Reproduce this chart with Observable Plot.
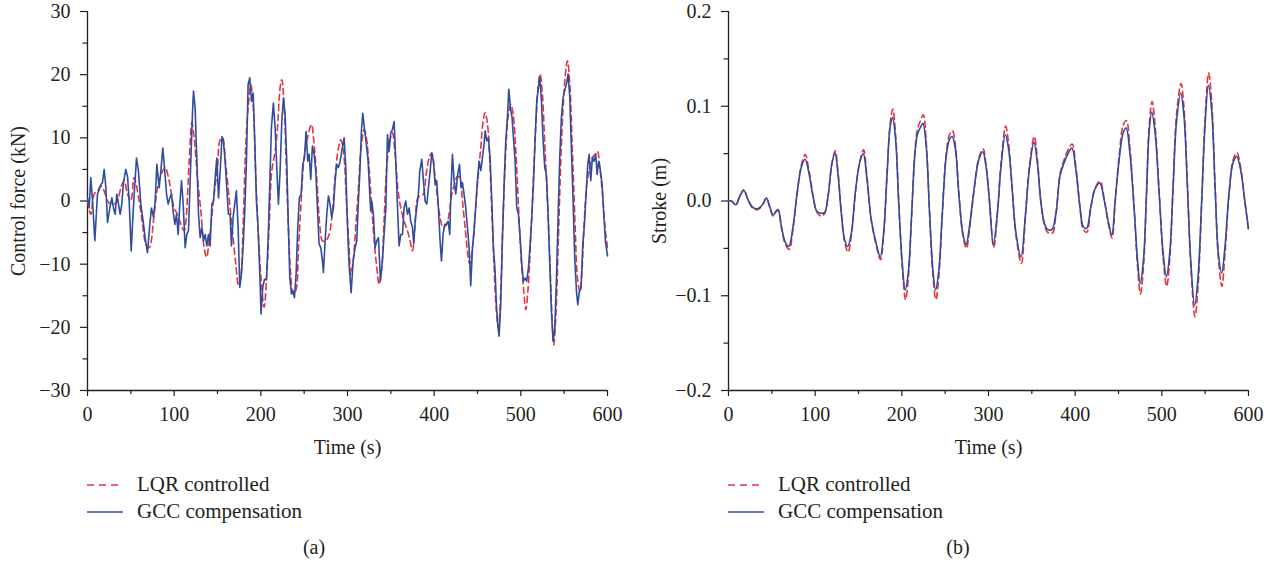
<!DOCTYPE html>
<html><head><meta charset="utf-8">
<script src="https://cdn.jsdelivr.net/npm/d3@7"></script>
<script src="https://cdn.jsdelivr.net/npm/@observablehq/plot@0.6"></script>
<style>
body{margin:0;background:#fff;font-family:"Liberation Serif","DejaVu Serif",serif;color:#231f20;}
#wrap{position:relative;width:1283px;height:569px;overflow:hidden;}
.panel{position:absolute;top:0;height:569px;}
.legend{position:absolute;left:87px;top:471px;font-size:21px;}
.row{height:27px;display:flex;align-items:center;}
.row svg{flex:none;}
.row span{margin-left:14px;white-space:nowrap;}
.cap{position:absolute;top:536px;width:40px;text-align:center;font-size:20px;}
</style></head><body>
<div id="wrap">
  <div class="panel" id="pa" style="left:0;width:641px;">
    <div class="legend" id="la"></div>
    <div class="cap" style="left:294px;">(a)</div>
  </div>
  <div class="panel" id="pb" style="left:641px;width:642px;">
    <div class="legend" id="lb"></div>
    <div class="cap" style="left:297px;">(b)</div>
  </div>
</div>
<script>
const seriesNames = ["LQR controlled", "GCC compensation"];
const xLabel = "Time (s)";
const yLabelA = "Control force (kN)";
const yLabelB = "Stroke (m)";
const xTicks = [0, 100, 200, 300, 400, 500, 600];
const xMinor = [50, 150, 250, 350, 450, 550];
const yTicksA = [-30, -20, -10, 0, 10, 20, 30];
const yMinorA = [-25, -15, -5, 5, 15, 25];
const yTicksB = [-0.2, -0.1, 0, 0.1, 0.2];
const yMinorB = [-0.15, -0.05, 0.05, 0.15];

// (a) control force, kN : [time s, value]
const gccForce = [[0,0.5],[1.9,-1.1],[3.8,3.7],[5.8,0],[8.5,-6.3],[11.5,1.1],[13.5,1.8],[15.4,2.6],[17.3,2.9],[19.2,5],[21.2,2.1],[23.1,-3.4],[25.8,-1.1],[28.1,0.5],[30,-1.1],[31.9,-2.1],[33.8,1.1],[35.8,-0.5],[37.7,-2.1],[39.6,-0.5],[41.5,2.9],[44.2,5],[46.2,3.9],[48.1,0],[50.4,-7.9],[52.7,-1.6],[56.5,6.8],[58.8,4.7],[61.5,-0.5],[64.2,-3.2],[66.5,-5.8],[69.2,-8.2],[71.9,-3.7],[73.8,-1.1],[76.2,-2.6],[78.1,0],[80,5.8],[82.7,2.1],[84.6,4.7],[86.9,8.4],[89.2,4.7],[91.2,1.1],[93.1,-0.5],[95,0.5],[96.9,1.1],[98.8,-1.6],[100.8,-3.7],[102.7,-2.1],[104.6,-5.3],[106.5,-0.5],[108.5,3.2],[110.4,-0.5],[112.7,-7.4],[114.6,-5.3],[116.5,-4.7],[119.2,6.3],[121.2,14.2],[122.3,17.4],[124.2,14.7],[126.2,6.3],[128.1,-2.1],[130,-5.8],[131.9,-4.2],[133.8,-6.3],[135.8,-5.3],[137.7,-7.1],[139.6,-5.3],[141.5,-7.1],[143.5,-0.5],[145.4,0],[147.3,3.7],[149.2,6.8],[151.2,0.5],[153,4.5],[155.2,10.2],[156.8,9.5],[158.8,6.3],[160.7,2.1],[162.6,-2.1],[164.5,-2.1],[166.1,-7.1],[168,-2.6],[169.9,-0.5],[171.8,1.6],[173.8,-4.2],[175.7,-13.7],[177.6,-11.6],[179.5,-7.4],[181.5,-1.6],[183.4,6.3],[185.3,18.4],[187.2,19.5],[189.2,15.8],[191.1,17.1],[193,9.5],[194.9,0],[196.8,-4.2],[198.8,-11.6],[200.3,-17.9],[202.2,-13.7],[204.2,-12.4],[206.5,-12.4],[208.4,-6.3],[210.3,2.6],[212.2,11.6],[214.5,15.5],[216.5,11.6],[218.4,5.3],[220.3,-0.5],[222.2,4.7],[224.2,12.6],[226.1,16.3],[228,13.7],[229.9,6.3],[231.8,-4.2],[233.4,-12.1],[235.3,-14.7],[237.2,-14.2],[238.8,-15.3],[240.7,-11.6],[242.6,-4.2],[244.5,0.5],[246.5,1.1],[248.4,5.8],[250.3,6.8],[252.2,11],[254.2,6.3],[255.7,7.4],[257.6,3.4],[259.5,8.7],[261.5,7.4],[263.4,4.7],[265.3,-1.1],[267.2,-6.8],[269.2,-7.4],[271.1,-9.5],[272.2,-11.3],[274.2,-6.3],[276.1,-2.1],[278,0.8],[279.9,-0.5],[281.8,-2.6],[283.8,-1.1],[285.7,3.2],[287.6,5.8],[289.5,5.3],[291.5,6.3],[293.4,7.9],[296.1,10],[298,5.3],[299.9,-3.7],[301.8,-10],[304.2,-14.5],[306.5,-9.5],[308.8,-7.4],[310.7,-6.3],[312.6,0],[314.5,5.3],[316.1,11.1],[317.6,13.9],[319.5,11.6],[321.8,8.9],[323.8,6.3],[325.7,1.1],[326.8,-1.6],[328,0],[329.9,-2.1],[331.8,-7.4],[333.8,-6.3],[335.7,-5.8],[338,-12.6],[340.3,-9.5],[342.2,-5.3],[344.2,-1.1],[346.1,10.5],[348,7.9],[349.9,10.8],[351.8,11.3],[353.8,12.6],[355.7,6.3],[357.6,-0.5],[359.5,-7.1],[361.5,-5.3],[363.4,-5.3],[365.3,-1.1],[367.2,0],[369.2,-2.1],[371.1,-1.1],[373,-3.2],[374.9,-4.2],[376.5,-6.8],[378,-3.2],[379.9,-1.1],[381.8,1.1],[383.4,4.7],[385.7,6.6],[387.6,3.2],[389.5,0],[391.5,-0.5],[393.4,2.1],[395.3,4.7],[397.2,7.6],[399.2,6.3],[401.1,2.6],[403,3.2],[404.9,-1.1],[406.8,-6.3],[408.4,-9.5],[410.3,-5.3],[412.2,-3.7],[414.2,-3.7],[416.1,-3.2],[418,-5.3],[419.5,2.1],[421.1,7.4],[423,3.2],[424.9,1.1],[427.2,4.2],[429.2,5.8],[431.1,2.1],[432.6,2.9],[434.5,1.1],[436.5,-1.1],[438.4,-4.2],[440.3,-7.4],[442.2,-13.4],[444.2,-7.4],[446.1,-4.7],[448,-0.8],[449.9,3.2],[451.8,6.3],[453.8,4.8],[455.7,6.9],[457.6,9],[458.8,11.1],[460.7,9.5],[462.6,10],[464.5,6.9],[466.5,0],[468.4,-7.4],[470.3,-11.1],[471.8,-16.4],[473.4,-19.6],[474.9,-21.4],[476.8,-16.4],[478.8,-5.8],[480.7,2.6],[482.6,9.5],[484.5,13.2],[486.1,17.7],[488,14.8],[489.9,13.2],[491.5,10],[493.4,6.3],[495.3,-1.1],[497.2,-2.1],[499.2,-5.8],[501.1,-10],[503,-12.7],[504.9,-12.2],[506.8,-12.7],[508.8,-10.6],[510.7,-6.9],[512.6,-2.6],[514.5,2.6],[516.5,10],[518.4,15.9],[520.3,18],[521.8,19.6],[523.8,15.9],[525.7,9.5],[527.6,5.3],[529.5,4.2],[531.5,-2.1],[533.4,-10],[535.3,-17.5],[537.2,-22.2],[539.2,-20.1],[541.1,-12.2],[543,-2.6],[544.9,6.9],[546.8,13.2],[548.8,16.4],[550.7,17.5],[552.6,18.5],[554.5,20.1],[556.5,16.4],[558.4,7.9],[560.3,0],[562.2,-9],[564.2,-14.3],[565.7,-16.4],[567.6,-14.3],[569.5,-13.8],[571.5,-6.9],[573.4,-3.7],[575.3,1.1],[577.2,5.8],[578.8,7.4],[580.7,3.2],[582.6,6.9],[584.5,6.3],[586.5,7.4],[588,4.2],[589.9,6.3],[591.8,4.8],[593.8,2.6],[595.7,-2.1],[597.6,-6.3],[600,-8.7]];

const lqrForce = [[0,0],[3.8,-2.1],[7.7,1.1],[11.5,1.6],[15.4,2.4],[19.2,1.6],[23.1,0],[26.9,-0.5],[30.8,-0.5],[34.6,0],[38.5,2.1],[42.3,3.2],[46.2,1.1],[50,0],[53.8,3.7],[59.6,0],[63.5,-3.7],[67.3,-6.8],[71.2,-7.4],[76.9,-2.1],[80.8,2.1],[86.5,4.7],[89.6,5.3],[94.2,3.2],[100,-1.1],[103.8,-2.1],[107.7,-3.7],[111.5,-4.7],[113.5,-3.2],[117.3,6.3],[120.4,12.4],[123.1,10],[126.9,3.7],[130.8,-1.6],[134.6,-7.4],[137.3,-8.9],[141.2,-5.3],[146.2,1.1],[150,5.3],[152.6,9.5],[155.7,10],[159.5,5.8],[163.4,0.5],[167.2,-4.7],[171.1,-10],[174.2,-13.4],[176.8,-12.1],[179.5,-4.2],[182.6,8.9],[185.3,14.7],[188.4,18.4],[191.1,15.3],[194.2,3.7],[197.2,-5.3],[199.9,-11.6],[203.8,-16.8],[206.5,-12.6],[209.5,-4.2],[212.6,4.7],[216.5,7.9],[219.2,11.6],[222.2,17.9],[224.2,19.2],[226.8,15.3],[229.5,4.7],[231.8,-4.2],[234.5,-11.6],[237.2,-14.7],[240.3,-14.2],[243.4,-7.4],[246.1,-1.1],[249.9,6.8],[253.8,10],[258.4,12.1],[261.5,8.9],[264.5,3.7],[268,-3.7],[271.1,-6.3],[274.9,-6.3],[278.8,-5.3],[282.6,-1.6],[285.7,3.7],[289.5,8.4],[292.2,9.7],[295.3,7.9],[298.8,0],[301.8,-7.4],[303.8,-11.6],[306.5,-9.5],[309.5,-4.2],[312.6,2.1],[315.7,8.4],[319.2,11.3],[321.8,10],[324.9,5.3],[328,-1.1],[331.1,-6.8],[333.8,-10.5],[336.5,-13.2],[339.5,-10.5],[342.2,-3.2],[344.9,4.7],[348.8,9.5],[351.8,10.8],[354.9,7.4],[358.4,1.6],[361.5,-1.1],[365.3,-3.2],[369.2,-4.7],[372.2,-6.3],[374.9,-7.9],[378,-3.7],[381.1,0.5],[384.5,0.8],[387.6,1.1],[390.7,4.2],[394.2,6.8],[397.2,7.6],[400.3,4.7],[403.8,0.5],[406.8,-2.6],[410.3,-4.2],[414.2,-3.7],[417.2,-2.1],[420.3,1.1],[423.4,2.6],[426.8,3.9],[429.5,3.7],[432.6,0],[435.7,-4.2],[438.8,-8.4],[441.1,-10],[444.2,-7.4],[447.2,-2.1],[450.3,3.2],[453.8,8.5],[456.5,12.7],[458.8,14],[461.5,12.2],[464.2,6.3],[466.5,-1.6],[469.2,-10.6],[471.8,-17.5],[474.2,-20.1],[476.8,-14.3],[479.5,-2.6],[482.6,7.9],[485.3,13.2],[488.4,15.3],[491.1,13.8],[494.2,7.9],[497.2,-0.5],[500.3,-9],[503.4,-14.3],[505.7,-17.2],[508.4,-13.8],[511.5,-5.8],[514.2,2.6],[517.2,11.6],[519.9,18],[522.2,20.1],[524.9,16.9],[527.6,9],[530.7,0],[533.4,-9],[535.7,-17.5],[538,-22.8],[540.3,-18.5],[543.4,-5.8],[546.1,6.3],[549.2,15.9],[551.8,20.6],[553.8,22.2],[556.5,18.5],[559.5,7.9],[562.6,-3.7],[565.3,-12.2],[568,-14.3],[570.3,-11.6],[573,-3.7],[576.1,2.6],[579.5,5.3],[582.6,6.9],[585.7,7.4],[588.4,7.9],[591.1,5.3],[594.2,1.1],[597.2,-4.2],[600,-7.5]];

// (b) stroke, m : [time s, value]
const gccStroke = [[0,0],[3.5,0],[8.4,-0.004],[13,0.005],[17.7,0.011],[22.7,0.001],[28.4,-0.007],[34.2,-0.008],[39.2,-0.004],[43.8,0.003],[47.6,-0.006],[51.5,-0.015],[54.5,-0.011],[57.2,-0.009],[61.1,-0.027],[65.7,-0.044],[69.5,-0.048],[74.5,-0.027],[79.1,0.008],[84.1,0.036],[88.3,0.044],[92.9,0.029],[97.5,0.005],[102.1,-0.011],[107.1,-0.013],[111,-0.012],[114.8,0.005],[119.4,0.040],[122.9,0.051],[126.3,0.029],[130.2,-0.013],[134,-0.041],[137.5,-0.048],[141.7,-0.034],[146.7,0.012],[151.3,0.040],[155.5,0.050],[159.8,0.023],[164.7,-0.020],[170.5,-0.045],[175.1,-0.059],[179,-0.034],[182.8,0.026],[186.6,0.079],[189.3,0.088],[192.8,0.065],[196.6,-0.006],[200.5,-0.066],[203.9,-0.094],[207.4,-0.076],[211.2,-0.016],[215.1,0.050],[218.1,0.071],[221.6,0.078],[224.3,0.082],[228.1,0.058],[232,-0.013],[235.8,-0.072],[238.9,-0.094],[242.7,-0.073],[246.5,-0.016],[251.2,0.047],[255,0.065],[258.1,0.068],[261.9,0.054],[265.7,0.008],[270.4,-0.034],[274.2,-0.046],[278,-0.027],[283.7,0.015],[288.7,0.043],[293.4,0.052],[297.2,0.036],[301,0.001],[305.6,-0.046],[310.6,-0.009],[314.4,0.036],[319.4,0.070],[323.3,0.054],[327.1,0.015],[331.7,-0.034],[337.5,-0.059],[342.5,-0.016],[347.1,0.033],[352.5,0.062],[356.7,0.037],[360.5,-0.002],[364.4,-0.023],[368.2,-0.030],[373.2,-0.030],[377.8,-0.013],[382.4,0.026],[386.3,0.038],[391.2,0.049],[396.2,0.056],[400.8,0.033],[405.5,-0.006],[409.3,-0.027],[413.1,-0.029],[418.1,-0.006],[423.1,0.013],[428.5,0.019],[433.5,0.001],[438.5,-0.023],[442.3,-0.036],[446.2,0.001],[450.8,0.044],[455.4,0.072],[458.8,0.077],[463.1,0.051],[468.1,-0.009],[471.9,-0.062],[475,-0.087],[478.8,-0.062],[482.3,0.008],[485.3,0.072],[488.4,0.094],[492.2,0.072],[496.9,0.008],[501.5,-0.055],[505.3,-0.080],[509.1,-0.055],[513,0.015],[516.8,0.082],[521.8,0.114],[525.6,0.089],[529.5,0.015],[533.3,-0.062],[537.9,-0.110],[541.8,-0.080],[546,0.001],[549.8,0.079],[553.7,0.122],[557.5,0.096],[561.4,0.015],[565.2,-0.055],[569,-0.076],[572.9,-0.048],[577.5,0.008],[582.1,0.040],[586.3,0.047],[590.9,0.033],[595.6,0.001],[600,-0.029]];

const lqrStroke = [[0,0],[3.5,0],[8.4,-0.004],[13,0.005],[17.7,0.012],[22.7,0.001],[28.4,-0.008],[34.2,-0.009],[39.2,-0.004],[43.8,0.003],[47.6,-0.007],[51.5,-0.016],[54.5,-0.012],[57.2,-0.010],[61.1,-0.028],[65.7,-0.046],[70,-0.051],[74.5,-0.029],[79.1,0.007],[84.1,0.038],[88.6,0.049],[92.9,0.032],[97.5,0.006],[102.1,-0.012],[107.1,-0.016],[111,-0.013],[114.8,0.004],[119.4,0.040],[123.2,0.053],[126.3,0.031],[130.2,-0.012],[134,-0.043],[138,-0.054],[141.7,-0.037],[146.7,0.011],[151.3,0.041],[155.8,0.054],[159.8,0.025],[164.7,-0.020],[170.5,-0.047],[175.5,-0.062],[179,-0.036],[182.8,0.025],[186.6,0.082],[189.6,0.097],[192.8,0.070],[196.6,-0.004],[200.5,-0.070],[204.3,-0.104],[207.4,-0.082],[211.2,-0.018],[215.1,0.052],[218.1,0.076],[221.6,0.085],[224.8,0.091],[228.1,0.063],[232,-0.012],[235.8,-0.078],[239.3,-0.104],[242.7,-0.080],[246.5,-0.018],[251.2,0.050],[255,0.070],[258.5,0.074],[261.9,0.058],[265.7,0.010],[270.4,-0.036],[274.6,-0.050],[278,-0.030],[283.7,0.014],[288.7,0.045],[293.7,0.055],[297.2,0.038],[301,0.002],[306,-0.049],[310.6,-0.010],[314.4,0.040],[319.8,0.079],[323.3,0.060],[327.1,0.017],[331.7,-0.036],[337.9,-0.066],[342.5,-0.018],[347.1,0.036],[352.8,0.068],[356.7,0.041],[360.5,-0.001],[364.4,-0.025],[368.2,-0.033],[373.5,-0.034],[377.8,-0.015],[382.4,0.028],[386.3,0.041],[391.2,0.053],[396.5,0.060],[400.8,0.036],[405.5,-0.006],[409.3,-0.030],[413.4,-0.033],[418.1,-0.007],[423.1,0.014],[428.7,0.021],[433.5,0.002],[438.5,-0.025],[442.6,-0.039],[446.2,0.000],[450.8,0.048],[455.4,0.080],[459.1,0.085],[463.1,0.057],[468.1,-0.008],[471.9,-0.068],[475.3,-0.098],[478.8,-0.070],[482.3,0.006],[485.3,0.078],[488.7,0.105],[492.2,0.080],[496.9,0.010],[501.5,-0.060],[505.6,-0.090],[509.1,-0.062],[513,0.014],[516.8,0.090],[522.1,0.124],[525.6,0.098],[529.5,0.018],[533.3,-0.066],[538.2,-0.122],[541.8,-0.090],[546,-0.002],[549.8,0.086],[554,0.135],[557.5,0.106],[561.4,0.018],[565.2,-0.060],[569.3,-0.090],[572.9,-0.055],[577.5,0.006],[582.1,0.043],[586.6,0.051],[590.9,0.036],[595.6,0.001],[600,-0.032]];

const RED = "#e8323c";
const BLUE = "#2f4c9f";
const INK = "#231f20";
const FONT = '"Liberation Serif", "DejaVu Serif", serif';

function chart({width, gcc, lqr, yDomain, yTicks, yMinor, yFormat, yLabel, curve}) {
  return Plot.plot({
    width, height: 460,
    marginLeft: 87, marginRight: width - 87 - 520, marginTop: 11, marginBottom: 70,
    style: {fontFamily: FONT, fontSize: "20px", color: INK, background: "white", overflow: "visible"},
    x: {domain: [0, 600]},
    y: {domain: yDomain},
    marks: [
      Plot.axisX(xTicks, {anchor: "bottom", tickSize: 6, tickPadding: 10, tickFormat: d => String(d), label: null, fontSize: 20, strokeWidth: 1.2}),
      Plot.axisX(xMinor, {anchor: "bottom", tickSize: 4, tickFormat: () => "", label: null, strokeWidth: 1.2}),
      Plot.axisY(yTicks, {anchor: "left", tickSize: 7, tickPadding: 10, tickFormat: yFormat, label: null, fontSize: 20, strokeWidth: 1.2}),
      Plot.axisY(yMinor, {anchor: "left", tickSize: 4.5, tickFormat: () => "", label: null, strokeWidth: 1.2}),
      Plot.ruleX([0], {stroke: INK, strokeWidth: 1.3}),
      Plot.ruleY([yDomain[0]], {stroke: INK, strokeWidth: 1.3}),
      Plot.line(lqr, {x: d => d[0], y: d => d[1], stroke: RED, strokeWidth: 1.6, strokeDasharray: "6,4", curve: "catmull-rom"}),
      Plot.line(gcc, {x: d => d[0], y: d => d[1], stroke: BLUE, strokeWidth: 1.6, curve}),
      Plot.text([xLabel], {frameAnchor: "bottom", dy: 57, lineAnchor: "middle", textAnchor: "middle", fontSize: 20, fill: INK}),
      Plot.text([yLabel], {frameAnchor: "left", dx: -69, rotate: -90, textAnchor: "middle", lineAnchor: "middle", fontSize: 20, fill: INK})
    ]
  });
}

const a = chart({width: 641, gcc: gccForce, lqr: lqrForce, yDomain: [-30, 30], yTicks: yTicksA, yMinor: yMinorA,
  yFormat: d => d3.format("d")(d), yLabel: yLabelA, curve: "linear"});
const b = chart({width: 642, gcc: gccStroke, lqr: lqrStroke, yDomain: [-0.2, 0.2], yTicks: yTicksB, yMinor: yMinorB,
  yFormat: d => d3.format(".1f")(d), yLabel: yLabelB, curve: "catmull-rom"});
document.getElementById("pa").prepend(a);
document.getElementById("pb").prepend(b);

function legend(el) {
  const styles = [{stroke: RED, dash: "7,5"}, {stroke: BLUE, dash: null}];
  seriesNames.forEach((name, i) => {
    const row = document.createElement("div");
    row.className = "row";
    const s = styles[i];
    row.innerHTML = `<svg width="36" height="10"><line x1="0" x2="36" y1="5" y2="5" stroke="${s.stroke}" stroke-width="1.6" ${s.dash ? `stroke-dasharray="${s.dash}"` : ""}/></svg><span></span>`;
    row.querySelector("span").textContent = name;
    el.appendChild(row);
  });
}
legend(document.getElementById("la"));
legend(document.getElementById("lb"));
</script>
</body></html>
